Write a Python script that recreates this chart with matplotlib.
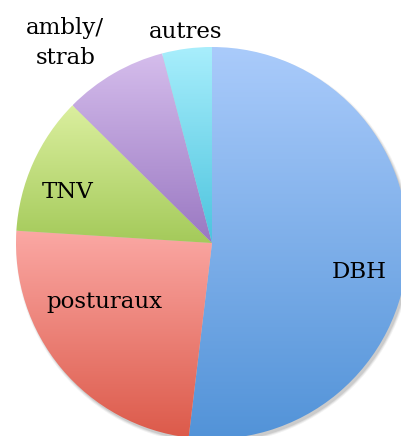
import numpy as np
import matplotlib
matplotlib.use("Agg")
from matplotlib import pyplot as plt
from matplotlib.colors import to_rgb

# slices, clockwise from the top
labels = ["DBH", "posturaux", "TNV", "ambly/", "strab", "autres"]
values = [51.9, 24.1, 11.4, 8.5, 4.1]
top_colors = ["#aacbfb", "#fba8a4", "#dbef9f", "#d5bdec", "#a8eefc"]
bottom_colors = ["#5293d8", "#dc5a4a", "#a4ca5a", "#9a78c2", "#4cc4de"]

# label centres x / baselines y (pixels, y down)
label_pos = [(359, 278), (104, 308), (68, 198), (65, 34), (66, 64), (186, 38)]

W, H = 401, 436
cx, cy, r = 212, H - 243, 196

fig = plt.figure(figsize=(W / 100, H / 100), dpi=100)
ax = fig.add_axes([0, 0, 1, 1])

# soft shadow
for k, a in enumerate([0.05, 0.07, 0.09]):
    shadow = plt.Circle((cx + 2, cy - 3), r + 2 - k, color="black", alpha=a, lw=0)
    ax.add_patch(shadow)

wedges, _ = ax.pie(values, startangle=90, counterclock=False, center=(cx, cy),
                   radius=r, frame=True,
                   wedgeprops=dict(linewidth=0, facecolor="none"))

for w, c1, c2 in zip(wedges, top_colors, bottom_colors):
    bb = w.get_path().get_extents(w.get_transform() - ax.transData)
    t = np.linspace(0, 1, 256)[:, None, None]
    grad = np.array(to_rgb(c1)) * (1 - t) + np.array(to_rgb(c2)) * t
    im = ax.imshow(grad, extent=(bb.x0, bb.x1, bb.y0, bb.y1), origin="upper",
                   aspect="auto", zorder=2, interpolation="bilinear")
    im.set_clip_path(w)

for lab, (x, y) in zip(labels, label_pos):
    ax.text(x, H - y, lab, ha="center", va="baseline", fontsize=16.5,
            family="DejaVu Serif", zorder=5)

ax.set_xlim(0, W)
ax.set_ylim(0, H)
ax.set_aspect("equal")
ax.axis("off")
fig.savefig("out.png", dpi=100)
